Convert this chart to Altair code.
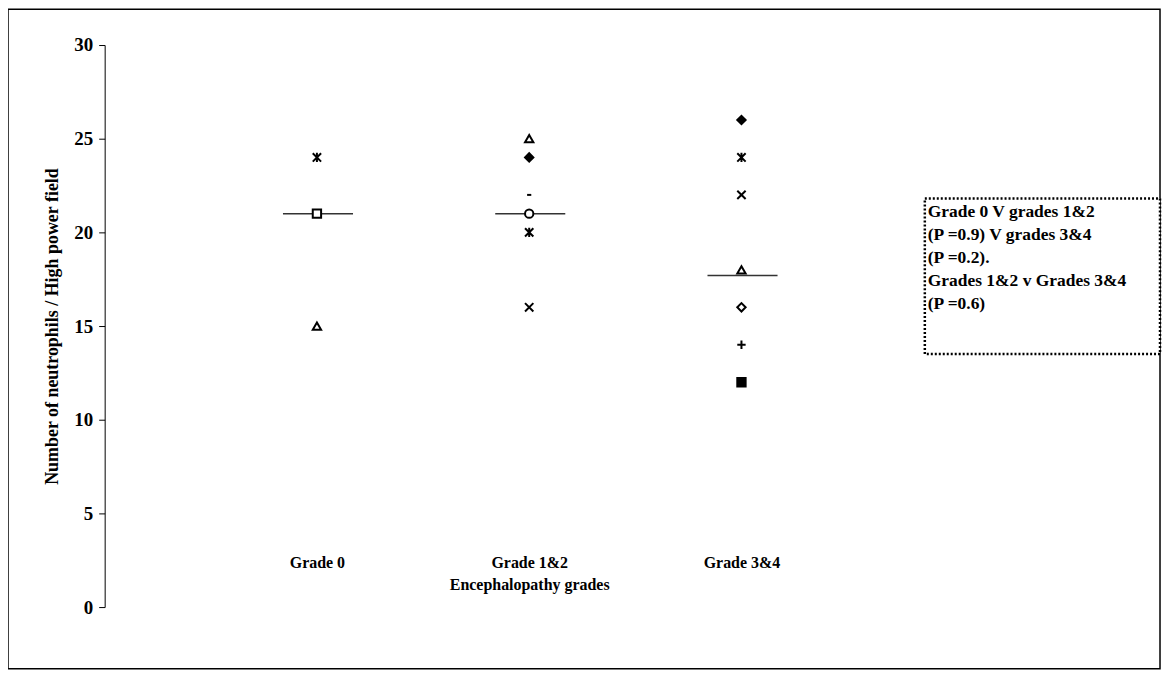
import json
import altair as alt
import pandas as pd

# ---- data ----
grades = ["Grade 0", "Grade 1&2", "Grade 3&4"]
grade_positions = [1, 2, 3]
grade0_values = [24, 21, 15]
grade12_values = [25, 24, 22, 21, 20, 16]
grade34_values = [26, 24, 22, 18, 16, 14, 12]
group_lines = [21, 21, 17.7]
y_ticks = [0, 5, 10, 15, 20, 25, 30]
note_lines = [
    "Grade 0 V grades 1&2",
    "(P =0.9) V grades 3&4",
    "(P =0.2).",
    "Grades 1&2 v Grades 3&4",
    "(P =0.6)",
]

# ---- marker styles (shape, fill) per point ----
ASTER = "M-1,-1L1,1M-1,1L1,-1M0,-1.1L0,1.1"
XMARK = "M-1,-1L1,1M-1,1L1,-1"
PLUS = "M-1,0L1,0M0,-1L0,1"
DASH = "M-0.5,0L0.5,0"
NONE = "transparent"
marker_styles = [
    [(ASTER, NONE), ("square", "white"), ("triangle-up", "white")],
    [("triangle-up", "white"), ("diamond", "black"), (DASH, NONE),
     ("circle", "white"), (ASTER, NONE), (XMARK, NONE)],
    [("diamond", "black"), (ASTER, NONE), (XMARK, NONE), ("triangle-up", "white"),
     ("diamond", "white"), (PLUS, NONE), ("square", "black")],
]

rows = []
for pos, vals, styles in zip(grade_positions,
                             [grade0_values, grade12_values, grade34_values],
                             marker_styles):
    for v, (shp, fil) in zip(vals, styles):
        rows.append({"pos": pos, "value": v, "shape": shp, "fill": fil})
points_df = pd.DataFrame(rows)
lines_df = pd.DataFrame({"pos": grade_positions, "line": group_lines})

FONT = "Liberation Serif"
x_scale = alt.Scale(domain=[0, 4], range=[97, 949])
y_scale = alt.Scale(domain=[0, 30], range=[600, 36])
label_expr = json.dumps([""] + grades) + "[datum.value]"

x_axis = alt.Axis(
    values=grade_positions, labelExpr=label_expr, domain=False, ticks=False,
    grid=False, offset=-115, labelPadding=0, labelFont=FONT, labelFontSize=16,
    labelFontWeight="bold", labelColor="black", title="Encephalopathy grades",
    titleFont=FONT, titleFontSize=16, titleFontWeight="bold", titleColor="black",
    titlePadding=6)
y_axis = alt.Axis(
    values=y_ticks, offset=-97, grid=False, tickSize=6, tickColor="black",
    domainColor="black", labelFont=FONT, labelFontSize=19, labelFontWeight="bold",
    labelColor="black", labelPadding=6,
    title="Number of neutrophils / High power field", titleFont=FONT,
    titleFontSize=18, titleFontWeight="bold", titleColor="black", titlePadding=12)

rules = alt.Chart(lines_df).transform_calculate(
    x0="datum.pos - 0.16", x1="datum.pos + 0.17"
).mark_rule(color="#333333", strokeWidth=1.5).encode(
    x=alt.X("x0:Q", scale=x_scale, axis=x_axis),
    x2="x1:Q",
    y=alt.Y("line:Q", scale=y_scale, axis=y_axis),
)

points = alt.Chart(points_df).mark_point(
    stroke="black", strokeWidth=2, size=70, opacity=1, fillOpacity=1
).encode(
    x=alt.X("pos:Q", scale=x_scale, axis=x_axis),
    y=alt.Y("value:Q", scale=y_scale, axis=y_axis),
    shape=alt.Shape("shape:N", scale=None),
    fill=alt.Fill("fill:N", scale=None),
)

box = alt.Chart(pd.DataFrame({"a": [0]})).mark_rect(
    fill="white", stroke="black", strokeWidth=2.5, strokeDash=[2, 2]
).encode(x=alt.value(920), x2=alt.value(1156), y=alt.value(190), y2=alt.value(346))

note = alt.Chart(pd.DataFrame({"a": [0]})).mark_text(
    align="left", baseline="top", font=FONT, fontSize=17.5, fontWeight="bold",
    lineHeight=23, color="black"
).encode(x=alt.value(923), y=alt.value(195), text=alt.value(note_lines))

chart = alt.layer(rules, points, box, note).properties(
    width=1156, height=662, padding=0, background="white"
).configure_view(stroke="black", strokeWidth=1.5)

chart.save("out.html", embed_options={"renderer": "svg", "actions": False})
